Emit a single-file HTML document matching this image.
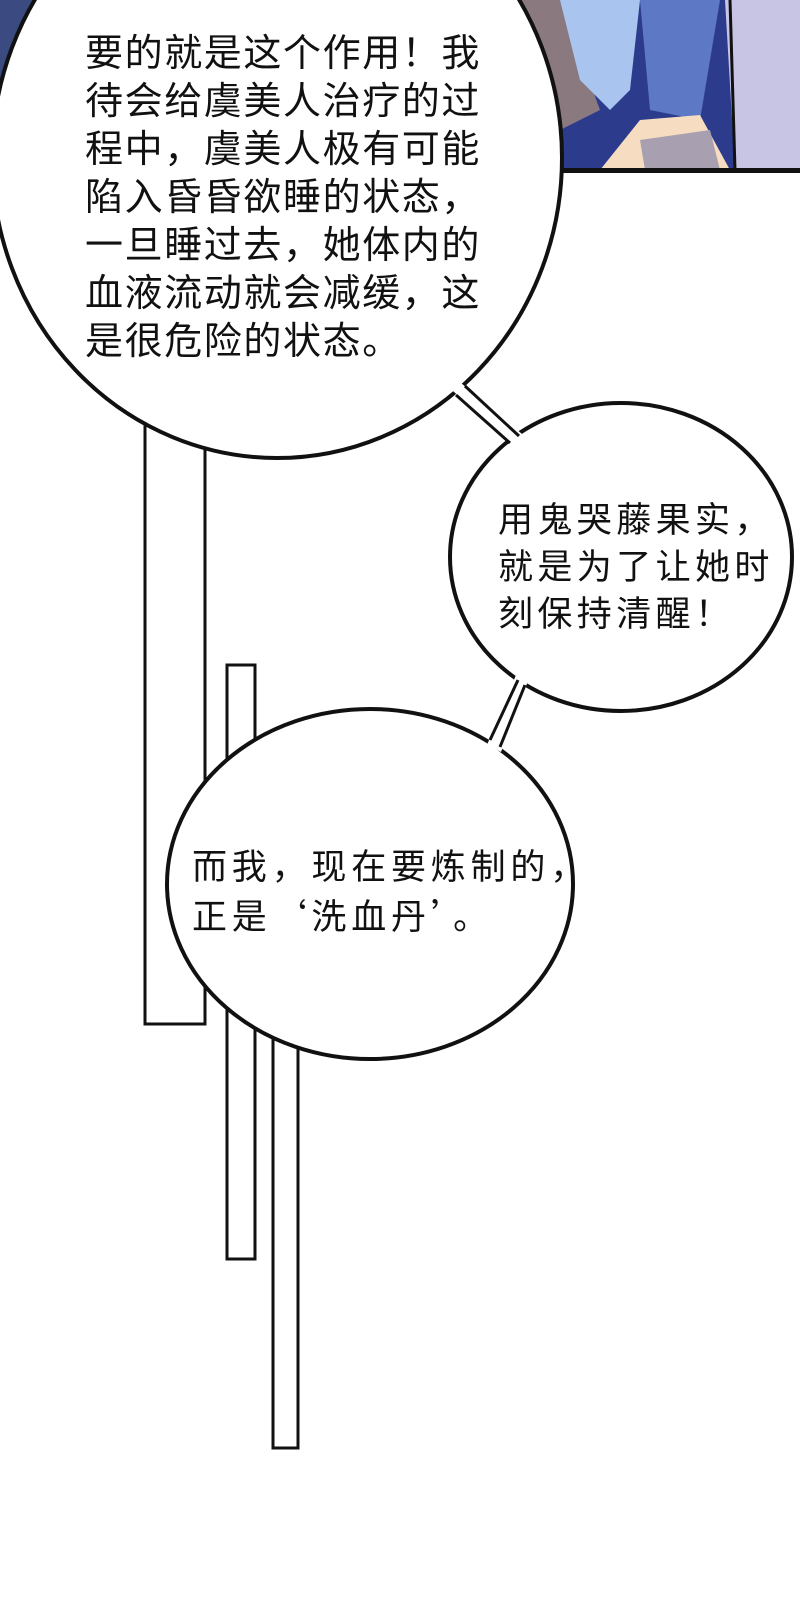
<!DOCTYPE html>
<html><head><meta charset="utf-8"><style>
html,body{margin:0;padding:0;background:#fff;}
body{width:800px;height:1611px;position:relative;overflow:hidden;}
svg{position:absolute;left:0;top:0;}
.t{position:absolute;font-family:"Liberation Sans","Noto Sans CJK SC",sans-serif;color:#111;white-space:nowrap;}
.c{font-family:"Noto Sans CJK SC",sans-serif;}
</style></head><body>
<svg width="800" height="1611" viewBox="0 0 800 1611">
  <rect x="480" y="0" width="320" height="170" fill="#2c3b8c"/>
  <polygon points="480,0 560,0 600,110 560,130 500,110" fill="#8a7a80"/>
  <polygon points="560,0 640,0 630,90 610,110 580,80" fill="#a9c4ee"/>
  <polygon points="640,0 720,0 700,120 650,110" fill="#5d79c6"/>
  <polygon points="600,170 640,120 700,115 730,170" fill="#f6dcc0"/>
  <polygon points="640,140 710,130 720,170 645,170" fill="#a8a0b0"/>
  <polygon points="725,0 800,0 800,170 735,170" fill="#c8c4e4"/>
  <line x1="730" y1="0" x2="735" y2="170" stroke="#111" stroke-width="3"/>
  <rect x="540" y="168" width="260" height="5" fill="#111"/>
  <polygon points="0,0 60,0 0,100" fill="#3b4a80"/>
  <rect x="145" y="300" width="60" height="724" fill="#fff" stroke="#111" stroke-width="3"/>
  <rect x="227" y="665" width="28" height="594" fill="#fff" stroke="#111" stroke-width="3"/>
  <rect x="273" y="900" width="25" height="548" fill="#fff" stroke="#111" stroke-width="3"/>
  <ellipse cx="277" cy="158" rx="285" ry="300" fill="#fff" stroke="#111" stroke-width="4"/>
  <ellipse cx="621" cy="557" rx="171" ry="154" fill="#fff" stroke="#111" stroke-width="4"/>
  <ellipse cx="370" cy="884" rx="203" ry="175" fill="#fff" stroke="#111" stroke-width="4"/>
  <polygon points="461,383 522,434 513,446 453,391" fill="#fff"/>
  <line x1="465" y1="386" x2="519" y2="436" stroke="#111" stroke-width="3"/>
  <line x1="456" y1="395" x2="510" y2="443" stroke="#111" stroke-width="3"/>
  <polygon points="516,675 528,681 501,752 487,745" fill="#fff"/>
  <line x1="518" y1="680" x2="490" y2="740" stroke="#111" stroke-width="3"/>
  <line x1="525" y1="685" x2="500" y2="747" stroke="#111" stroke-width="3"/>
</svg>
<div class="t" style="left:85px;top:30px;font-size:38px;line-height:48px;letter-spacing:1.6px;">要的就是这个作用！我<br>待会给虞美人治疗的过<br>程中，虞美人极有可能<br>陷入昏昏欲睡的状态，<br>一旦睡过去，她体内的<br>血液流动就会减缓，这<br>是很危险的状态。</div>
<div class="t" style="left:498px;top:497px;font-size:35px;line-height:47px;letter-spacing:4.4px;">用鬼哭藤果实，<br>就是为了让她时<br>刻保持清醒！</div>
<div class="t" style="left:192px;top:844px;font-size:35px;line-height:47px;letter-spacing:4.8px;">而我，现在要炼制的，<br>正是<span class="c">‘</span>洗血丹<span class="c">’</span>。</div>
</body></html>
